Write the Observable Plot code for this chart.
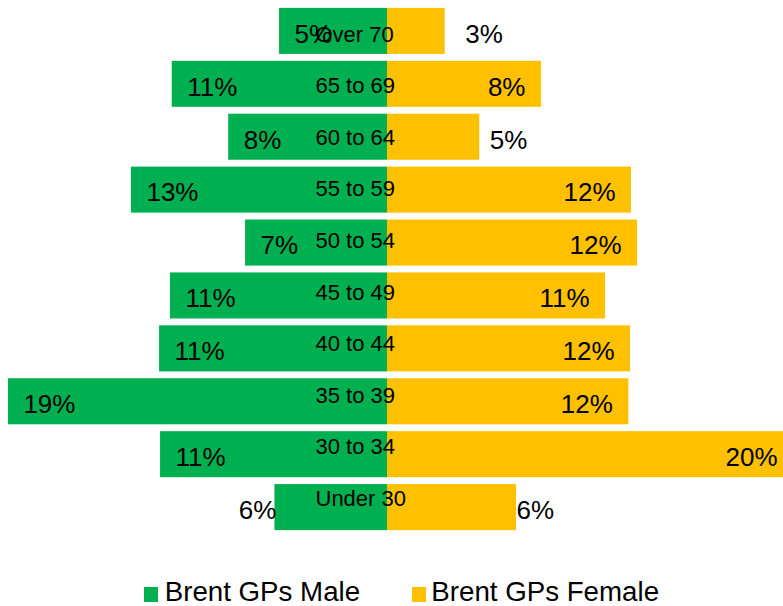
<!DOCTYPE html>
<html>
<head>
<meta charset="utf-8">
<script src="https://cdn.jsdelivr.net/npm/d3@7"></script>
<script src="https://cdn.jsdelivr.net/npm/@observablehq/plot@0.6"></script>
<style>
  html, body { margin: 0; padding: 0; background: #fff; overflow: hidden; }
  #wrap { position: relative; width: 783px; height: 606px; font-family: "Liberation Sans", Arial, sans-serif; }
  .sw { position: absolute; width: 14px; height: 14.5px; }
  .lt { position: absolute; font-size: 27.7px; line-height: 27.7px; color: #000; white-space: nowrap; }
</style>
</head>
<body>
<div id="wrap"></div>
<script>
const categories = ["Over 70","65 to 69","60 to 64","55 to 59","50 to 54","45 to 49","40 to 44","35 to 39","30 to 34","Under 30"];
const maleValues = [5.37, 10.71, 7.90, 12.74, 7.06, 10.80, 11.34, 18.86, 11.29, 5.60];
const femaleValues = [2.87, 7.66, 4.59, 12.14, 12.44, 10.85, 12.09, 12.01, 20.2, 6.42];
const seriesNames = ["Brent GPs Male", "Brent GPs Female"];
const seriesColors = ["#00B050", "#FFC000"];

const data = categories.map((c, i) => ({category: c, male: maleValues[i], female: femaleValues[i]}));

// labels placed outside the bar end (with their nudge in px)
const maleOutside = {"Under 30": 1.5};
const femaleOutside = {"Over 70": 20, "60 to 64": 10, "Under 30": 0};

const pct = v => Math.round(v) + "%";
const PCT_FS = 26;

const marks = [
  Plot.barX(data, {y: "category", x1: 0, x2: d => -d.male, fill: seriesColors[0], clip: true}),
  Plot.barX(data, {y: "category", x1: 0, x2: "female", fill: seriesColors[1], clip: true}),
  ...categories.map((c, i) => Plot.text([c], {
    x: () => 0, y: d => d, text: d => d, textAnchor: "start", dx: -72, dy: 3.3 - 1.35 * i,
    fontSize: 22, fill: "#000"
  })),
  Plot.text(data.filter(d => !(d.category in maleOutside)), {
    x: d => -d.male, y: "category", text: d => pct(d.male), textAnchor: "start", dx: 15, dy: 3,
    fontSize: PCT_FS, fill: "#000"
  }),
  ...Object.entries(maleOutside).map(([c, n]) => Plot.text(data.filter(d => d.category === c), {
    x: d => -d.male, y: "category", text: d => pct(d.male), textAnchor: "end", dx: n, dy: 3,
    fontSize: PCT_FS, fill: "#000"
  })),
  Plot.text(data.filter(d => !(d.category in femaleOutside)), {
    x: "female", y: "category", text: d => pct(d.female), textAnchor: "end", dx: -16, dy: 3,
    fontSize: PCT_FS, fill: "#000"
  }),
  ...Object.entries(femaleOutside).map(([c, n]) => Plot.text(data.filter(d => d.category === c), {
    x: "female", y: "category", text: d => pct(d.female), textAnchor: "start", dx: n, dy: 3,
    fontSize: PCT_FS, fill: "#000"
  }))
];

const chart = Plot.plot({
  width: 783,
  height: 560,
  marginLeft: 0,
  marginRight: 0,
  marginTop: 1,
  marginBottom: 23,
  style: {fontFamily: "Liberation Sans, Arial, sans-serif", background: "#fff", overflow: "visible"},
  x: {domain: [-387 / 20.1, 396 / 20.1], axis: null},
  y: {domain: categories, padding: 0.13, round: false, axis: null},
  marks
});

const wrap = document.getElementById("wrap");
wrap.appendChild(chart);

// legend below the chart
const legendPos = [{sx: 144, tx: 164.7}, {sx: 411.7, tx: 431.3}];
seriesNames.forEach((name, i) => {
  const sw = document.createElement("div");
  sw.className = "sw";
  sw.style.left = legendPos[i].sx + "px";
  sw.style.top = "587.3px";
  sw.style.background = seriesColors[i];
  wrap.appendChild(sw);
  const t = document.createElement("div");
  t.className = "lt";
  t.style.left = legendPos[i].tx + "px";
  t.style.top = "578.3px";
  t.textContent = name;
  wrap.appendChild(t);
});
</script>
</body>
</html>
